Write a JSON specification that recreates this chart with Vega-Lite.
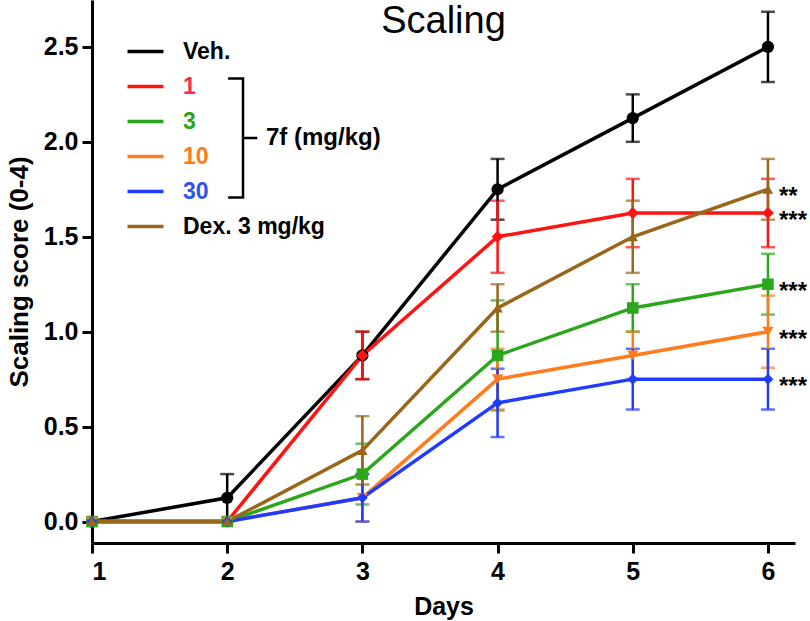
{
  "$schema": "https://vega.github.io/schema/vega-lite/v6.json",
  "width": 703,
  "height": 543,
  "autosize": "none",
  "padding": {"left": 92, "top": 0, "right": 15, "bottom": 78},
  "background": "white",
  "title": {"text": "Scaling", "fontSize": 38, "fontWeight": "normal", "font": "Liberation Sans", "color": "black", "anchor": "middle", "baseline": "alphabetic", "offset": -33, "dy": 38},
  "data": {"values": [
    {"day": 1, "group": "Veh.", "mean": 0, "sem": 0},
    {"day": 2, "group": "Veh.", "mean": 0.125, "sem": 0.125},
    {"day": 3, "group": "Veh.", "mean": 0.875, "sem": 0.125},
    {"day": 4, "group": "Veh.", "mean": 1.75, "sem": 0.16},
    {"day": 5, "group": "Veh.", "mean": 2.125, "sem": 0.125},
    {"day": 6, "group": "Veh.", "mean": 2.5, "sem": 0.185},
    {"day": 1, "group": "1", "mean": 0, "sem": 0},
    {"day": 2, "group": "1", "mean": 0, "sem": 0},
    {"day": 3, "group": "1", "mean": 0.875, "sem": 0.125},
    {"day": 4, "group": "1", "mean": 1.5, "sem": 0.19},
    {"day": 5, "group": "1", "mean": 1.625, "sem": 0.18},
    {"day": 6, "group": "1", "mean": 1.625, "sem": 0.18, "sig": "***"},
    {"day": 1, "group": "3", "mean": 0, "sem": 0},
    {"day": 2, "group": "3", "mean": 0, "sem": 0},
    {"day": 3, "group": "3", "mean": 0.25, "sem": 0.16},
    {"day": 4, "group": "3", "mean": 0.875, "sem": 0.29},
    {"day": 5, "group": "3", "mean": 1.125, "sem": 0.125},
    {"day": 6, "group": "3", "mean": 1.25, "sem": 0.16, "sig": "***"},
    {"day": 1, "group": "10", "mean": 0, "sem": 0},
    {"day": 2, "group": "10", "mean": 0, "sem": 0},
    {"day": 3, "group": "10", "mean": 0.125, "sem": 0.125},
    {"day": 4, "group": "10", "mean": 0.75, "sem": 0.16},
    {"day": 5, "group": "10", "mean": 0.875, "sem": 0.125},
    {"day": 6, "group": "10", "mean": 1.0, "sem": 0.19, "sig": "***"},
    {"day": 1, "group": "30", "mean": 0, "sem": 0},
    {"day": 2, "group": "30", "mean": 0, "sem": 0},
    {"day": 3, "group": "30", "mean": 0.125, "sem": 0.125},
    {"day": 4, "group": "30", "mean": 0.625, "sem": 0.18},
    {"day": 5, "group": "30", "mean": 0.75, "sem": 0.16},
    {"day": 6, "group": "30", "mean": 0.75, "sem": 0.16, "sig": "***"},
    {"day": 1, "group": "Dex. 3 mg/kg", "mean": 0, "sem": 0},
    {"day": 2, "group": "Dex. 3 mg/kg", "mean": 0, "sem": 0},
    {"day": 3, "group": "Dex. 3 mg/kg", "mean": 0.375, "sem": 0.18},
    {"day": 4, "group": "Dex. 3 mg/kg", "mean": 1.125, "sem": 0.125},
    {"day": 5, "group": "Dex. 3 mg/kg", "mean": 1.5, "sem": 0.19},
    {"day": 6, "group": "Dex. 3 mg/kg", "mean": 1.75, "sem": 0.16, "sig": "**"}
  ]},
  "encoding": {
    "x": {"field": "day", "type": "quantitative", "scale": {"domain": [1, 6.2], "nice": false, "zero": false}, "axis": {"values": [1, 2, 3, 4, 5, 6], "format": "d", "title": "Days"}},
    "y": {"field": "mean", "type": "quantitative", "scale": {"domain": [-0.113, 2.747], "nice": false, "zero": false}, "axis": {"values": [0, 0.5, 1, 1.5, 2, 2.5], "format": ".1f", "title": "Scaling score (0-4)"}}
  },
  "layer": [
    {
      "transform": [{"filter": "datum.sem > 0"}],
      "mark": {"type": "errorbar", "thickness": 2.5, "ticks": {"size": 14, "thickness": 2.5}},
      "encoding": {
        "yError": {"field": "sem"},
        "color": {"field": "group", "type": "nominal", "legend": null,
          "scale": {"domain": ["Veh.", "1", "3", "10", "30", "Dex. 3 mg/kg"], "range": ["#000000", "#ff1414", "#2ca61c", "#ff7b1c", "#1f3bff", "#99661a"]}}
      }
    },
    {
      "mark": {"type": "line", "strokeWidth": 3.5},
      "encoding": {
        "stroke": {"field": "group", "type": "nominal", "legend": null,
          "scale": {"domain": ["Veh.", "1", "3", "10", "30", "Dex. 3 mg/kg"], "range": ["#000000", "#ff1414", "#2ca61c", "#ff7b1c", "#1f3bff", "#99661a"]}}
      }
    },
    {
      "mark": {"type": "point", "filled": false, "size": 0, "strokeWidth": 3.5, "opacity": 1},
      "encoding": {
        "strokeDash": {"field": "group", "type": "nominal",
          "scale": {"domain": ["Dex. 3 mg/kg", "30", "10", "3", "1", "Veh."], "range": [[1, 0], [1, 0], [1, 0], [1, 0], [1, 0], [1, 0]]},
          "legend": {"orient": "none", "legendX": 42, "legendY": 40, "title": null, "padding": 0, "zindex": 1,
            "values": ["Veh.", "1", "3", "10", "30", "Dex. 3 mg/kg"],
            "symbolType": "M-3.6,0L3.6,0", "symbolSize": 100, "symbolOffset": 0, "symbolStrokeWidth": 3.5, "symbolOpacity": 1,
            "symbolStrokeColor": {"expr": "datum.value == '1' ? '#ff1414' : datum.value == '3' ? '#2ca61c' : datum.value == '10' ? '#ff7b1c' : datum.value == '30' ? '#1f3bff' : datum.value == 'Dex. 3 mg/kg' ? '#99661a' : '#000000'"},
            "labelOffset": 26, "rowPadding": 11, "labelFontSize": 23, "labelFontWeight": "bold", "labelFont": "Liberation Sans",
            "labelColor": {"expr": "datum.value == '1' ? '#f0304a' : datum.value == '3' ? '#33a020' : datum.value == '10' ? '#ff7a1a' : datum.value == '30' ? '#3050f0' : '#000000'"}}}
      }
    },
    {
      "mark": {"type": "point", "filled": true, "opacity": 1},
      "encoding": {
        "fill": {"field": "group", "type": "nominal",
          "scale": {"domain": ["Veh.", "1", "3", "10", "30", "Dex. 3 mg/kg"], "range": ["#000000", "#ff1414", "#2ca61c", "#ff7b1c", "#1f3bff", "#99661a"]},
          "legend": {"orient": "none", "legendX": 42, "legendY": 40, "title": null, "padding": 0, "zindex": 2, "symbolSize": 140, "symbolOffset": 0,
            "labelOffset": 25, "rowPadding": 11, "labelFontSize": 23, "labelFontWeight": "bold", "labelFont": "Liberation Sans", "labelOpacity": 0}},
        "shape": {"field": "group", "type": "nominal",
          "scale": {"domain": ["Veh.", "1", "3", "10", "30", "Dex. 3 mg/kg"], "range": ["circle", "diamond", "square", "triangle-down", "diamond", "triangle-up"]},
          "legend": {"orient": "none", "legendX": 42, "legendY": 40, "title": null, "padding": 0, "zindex": 2, "symbolSize": 140, "symbolOffset": 0,
            "labelOffset": 25, "rowPadding": 11, "labelFontSize": 23, "labelFontWeight": "bold", "labelFont": "Liberation Sans", "labelOpacity": 0}},
        "size": {"field": "group", "type": "nominal", "legend": null,
          "scale": {"domain": ["Veh.", "1", "3", "10", "30", "Dex. 3 mg/kg"], "range": [150, 110, 130, 150, 220, 150]}}
      }
    },
    {
      "transform": [{"filter": "datum.sig != null"}],
      "mark": {"type": "text", "align": "left", "baseline": "alphabetic", "dx": 11, "dy": 15, "fontSize": 24, "fontWeight": "bold", "font": "Liberation Sans", "color": "black"},
      "encoding": {"text": {"field": "sig"}}
    },
    {
      "data": {"values": [{"note": "7f (mg/kg)"}]},
      "mark": {"type": "point", "filled": false, "size": 0, "color": "black"},
      "encoding": {
        "opacity": {"field": "note", "type": "nominal", "scale": {"domain": ["7f (mg/kg)"], "range": [1]},
          "legend": {"orient": "none", "legendX": 90, "legendY": 77, "title": null, "padding": 0,
            "symbolType": "M-0.25,-1L0,-1L0,1L-0.25,1M0,0L0.24,0", "symbolSize": 14161, "symbolStrokeColor": "black",
            "symbolFillColor": "transparent", "symbolStrokeWidth": 2.5, "symbolOffset": 0, "labelOffset": -38,
            "labelFontSize": 24, "labelFontWeight": "bold", "labelFont": "Liberation Sans", "labelColor": "black"}}
      }
    }
  ],
  "config": {
    "view": {"stroke": null},
    "font": "Liberation Sans",
    "axis": {"grid": false, "domainColor": "black", "domainWidth": 3, "tickColor": "black", "tickWidth": 3, "tickSize": 10,
      "labelFont": "Liberation Sans", "labelFontSize": 25, "labelFontWeight": "bold", "labelColor": "black",
      "titleFont": "Liberation Sans", "titleFontSize": 25, "titleFontWeight": "bold", "titleColor": "black"},
    "axisX": {"labelPadding": 6, "titlePadding": 10},
    "axisY": {"labelPadding": 4, "titlePadding": 11, "titleFontSize": 26}
  }
}
